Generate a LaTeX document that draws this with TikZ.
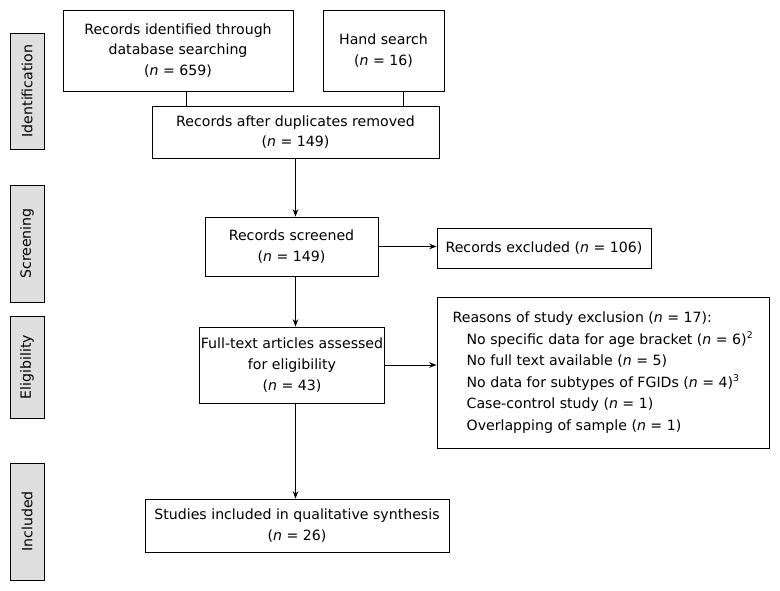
\documentclass[tikz,border=0pt]{standalone}
\usepackage{fontspec}
\setmainfont{DejaVu Sans}
\usetikzlibrary{arrows.meta}

\begin{document}
\fontsize{10.6}{15.6}\selectfont
\begin{tikzpicture}[x=0.75pt,y=-0.75pt,
	box/.style={draw,line width=0.7pt,align=center,inner sep=1pt},
	phase/.style={draw,line width=0.7pt,fill=gray!25,rotate=90,minimum height=25.5pt,inner sep=1pt},
	link/.style={line width=0.7pt},
	flow/.style={line width=0.7pt,-{Stealth[length=5.5pt,width=4.2pt]}}]
	\useasboundingbox(0,0)rectangle(780,591);
	% phase labels
	\node[phase,minimum width=87pt](ident)at(27,91){Identification};
	\node[phase,minimum width=87.75pt](screenlab)at(27,243.5){Screening};
	\node[phase,minimum width=76.5pt](eliglab)at(27,367){Eligibility};
	\node[phase,minimum width=87.75pt](incllab)at(27,521.5){Included};
	% boxes
	\node[box,minimum width=172.5pt,minimum height=60.75pt](db)at(178,50.5){Records identified through\\database searching\\(\textit{n} = 659)};
	\node[box,minimum width=90.75pt,minimum height=60.75pt](hand)at(383.5,50.5){Hand search\\(\textit{n} = 16)};
	\node[box,minimum width=215.25pt,minimum height=39pt](dup)at(295.5,132){Records after duplicates removed\\(\textit{n} = 149)};
	\node[box,minimum width=129.75pt,minimum height=44.25pt](screen)at(291.5,246.5){Records screened\\(\textit{n} = 149)};
	\node[box,minimum width=160.5pt,minimum height=30pt](excl)at(544,248){Records excluded (\textit{n} = 106)};
	\node[box,minimum width=138pt,minimum height=57pt](full)at(292,365){Full-text articles assessed\\for eligibility\\(\textit{n} = 43)};
	\node[box,minimum width=249pt,minimum height=113.25pt,align=left,font=\fontsize{10.6}{16.2}\selectfont](reasons)at(603,372.5){Reasons of study exclusion (\textit{n} = 17):\\
		\hspace*{10.5pt}No specific data for age bracket (\textit{n} = 6)\textsuperscript{\scriptsize 2}\\
		\hspace*{10.5pt}No full text available (\textit{n} = 5)\\
		\hspace*{10.5pt}No data for subtypes of FGIDs (\textit{n} = 4)\textsuperscript{\scriptsize 3}\\
		\hspace*{10.5pt}Case-control study (\textit{n} = 1)\\
		\hspace*{10.5pt}Overlapping of sample (\textit{n} = 1)};
	\node[box,minimum width=228pt,minimum height=39.75pt](studies)at(297,525.5){Studies included in qualitative synthesis\\(\textit{n} = 26)};
	% connectors
	\draw[link]([xshift=6pt]db.south)--([xshift=6pt]db.south|-dup.north);
	\draw[link]([xshift=14.6pt]hand.south)--([xshift=14.6pt]hand.south|-dup.north);
	\draw[flow](dup.south)--(dup.south|-screen.north);
	\draw[flow](dup.south|-screen.south)--(dup.south|-full.north);
	\draw[flow](dup.south|-full.south)--(dup.south|-studies.north);
	\draw[flow](screen.east)--(screen.east-|excl.west);
	\draw[flow](full.east)--(full.east-|reasons.west);
\end{tikzpicture}
\end{document}
